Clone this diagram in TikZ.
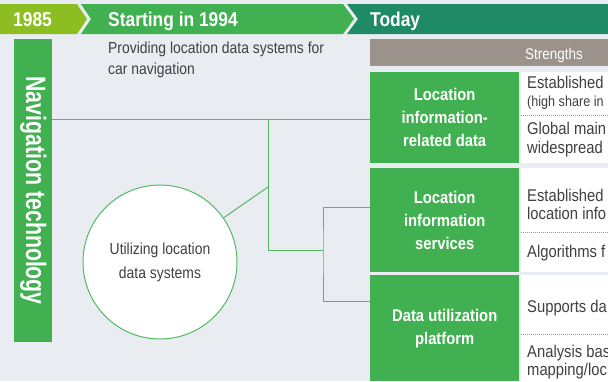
\documentclass[tikz,border=0pt]{standalone}
\usepackage{fontspec}
\setmainfont{Liberation Sans}[FakeStretch=0.87]
\newfontfamily\navfamily{Liberation Sans}[FakeStretch=0.76]
\usetikzlibrary{positioning}

\definecolor{bgray}{HTML}{E9EDF2}
\definecolor{limeg}{HTML}{8CBE22}
\definecolor{midg}{HTML}{40B050}
\definecolor{darkg}{HTML}{1F8A66}
\definecolor{taupe}{HTML}{9C928C}
\definecolor{txtgray}{HTML}{404040}
\definecolor{lineg}{HTML}{55B865}

\newcommand\stagefont{\fontsize{20}{22}\selectfont\bfseries}
\newcommand\navfont{\navfamily\fontsize{28}{30}\selectfont\bfseries}
\newcommand\boxfont{\fontsize{17}{23}\selectfont\bfseries}
\newcommand\bodyfont{\fontsize{16}{21}\selectfont}
\newcommand\circfont{\fontsize{16}{24}\selectfont}
\newcommand\headfont{\fontsize{15.5}{18}\selectfont}
\newcommand\cellfont{\fontsize{17}{19}\selectfont}
\newcommand\notefont{\fontsize{14.5}{16}\selectfont}

\begin{document}
\begin{tikzpicture}[x=1pt, y=-1pt,
		greenbox/.style={fill=midg, text=white, font=\boxfont, align=center, inner sep=0pt, minimum width=149pt, anchor=north west},
		cellbox/.style={fill=white, inner sep=0pt, minimum width=90pt, anchor=north west},
		celltext/.style={text=txtgray, font=\cellfont, anchor=base west, inner sep=0pt},
		stage/.style={text=white, font=\stagefont, anchor=base west, inner sep=0pt},
		link/.style={draw=lineg, line width=1pt},
		dotsep/.style={draw=black!40, line width=0.7pt, dash pattern=on 0.7pt off 1.3pt}]
			\useasboundingbox (0,0) rectangle (608,381);
			\clip (0,0) rectangle (608,381);
			\fill [bgray] (0,0) rectangle (608,381);

			% timeline
			\fill [limeg] (0,4) -- (77,4) -- (87,19) -- (77,34) -- (0,34) -- cycle;
			\fill [midg] (81,4) -- (343,4) -- (354,19) -- (343,34) -- (81,34) -- (91,19) -- cycle;
			\fill [darkg] (347,4) -- (608,4) -- (608,34) -- (347,34) -- (358,19) -- cycle;
			\node [stage] (y1985) at (13,26) {1985};
			\node [stage] (y1994) at (108,26) {Starting in 1994};
			\node [stage] (today) at (370,26) {Today};

			% left side
			\node [fill=midg, inner sep=0pt, minimum width=38pt, minimum height=303pt, anchor=north west] (nav) at (14,39) {};
			\node [rotate=-90, text=white, font=\navfont] (navtext) at (nav.center) {Navigation technology};
			\node [text=txtgray, font=\bodyfont, align=left, anchor=north west, inner sep=0pt] (intro) at (108,42) {Providing location data systems for\\car navigation};

			% links
			\coordinate (forkA) at (268,250);
			\coordinate (forkB) at (323,250);
			\coordinate (tap) at (268,187);
			\draw [link] (nav.east |- 0,119) -- (370,119);
			\draw [link] (forkA |- 0,119) -- (forkA) -- (forkB);
			\draw [link] (370,207) -| (forkB) |- (370,301);

			\node [circle, draw=lineg, line width=1pt, fill=white, minimum size=154pt, inner sep=0pt, align=center, text=txtgray, font=\circfont] (utilize) at (160,262) {Utilizing location\\data systems};
			\draw [link] (utilize) -- (tap);

			% strengths
			\node [fill=taupe, inner sep=0pt, minimum width=238pt, minimum height=27pt, anchor=north west] (strhead) at (370,39) {};
			\node [text=white, font=\headfont, anchor=base] (strtext) at (554,59) {Strengths};

			\node [greenbox, minimum height=91pt]  (locdata)  at (370,72)  {Location\\information-\\related data};
			\node [greenbox, minimum height=104pt] (locserv)  at (370,168) {Location\\information\\services};
			\node [greenbox, minimum height=106pt] (platform) at (370,275) {Data utilization\\platform};

			\node [cellbox, minimum height=91pt]  (cellA) at (521,72)  {};
			\node [cellbox, minimum height=104pt] (cellB) at (521,168) {};
			\node [cellbox, minimum height=106pt] (cellC) at (521,275) {};

			\draw [dotsep] (cellA.west |- 0,115) -- (608,115);
			\draw [dotsep] (cellB.west |- 0,232) -- (608,232);
			\draw [dotsep] (cellC.west |- 0,334) -- (608,334);

			\node [celltext] (a1) at (527,88)  {Established};
			\node [celltext, font=\notefont] (a2) at (527,106) {(high share in};
			\node [celltext] (a3) at (527,134) {Global main};
			\node [celltext] (a4) at (527,153) {widespread};
			\node [celltext] (b1) at (527,201) {Established};
			\node [celltext] (b2) at (527,219) {location info};
			\node [celltext] (b3) at (527,257) {Algorithms f};
			\node [celltext] (c1) at (527,312) {Supports da};
			\node [celltext] (c2) at (527,357) {Analysis bas};
			\node [celltext] (c3) at (527,375) {mapping/loc};
		\end{tikzpicture}
\end{document}
